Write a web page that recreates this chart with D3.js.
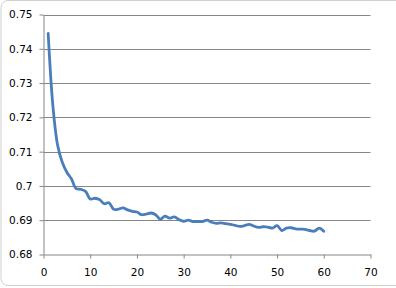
<!DOCTYPE html>
<html><head><meta charset="utf-8">
<script src="https://cdn.jsdelivr.net/npm/d3@7"></script>
<style>
html,body{margin:0;padding:0;background:#fff;overflow:hidden}
svg{display:block}
</style></head><body>
<svg id="c" width="396" height="288"></svg>
<script>
const xValues = d3.range(1, 61);
const yValues = [
 0.7445,0.7235,0.7120,0.7070,0.7040,0.7020,0.6992,0.6990,0.6984,0.6962,
 0.6964,0.6960,0.6948,0.6951,0.6932,0.6932,0.6936,0.6930,0.6926,0.6924,
 0.6916,0.6918,0.6921,0.6916,0.6903,0.6912,0.6906,0.6910,0.6902,0.6897,
 0.6900,0.6896,0.6896,0.6896,0.6900,0.6894,0.6891,0.6892,0.6890,0.6888,
 0.6885,0.6882,0.6884,0.6888,0.6883,0.6879,0.6881,0.6880,0.6877,0.6884,
 0.6870,0.6877,0.6878,0.6875,0.6874,0.6873,0.6870,0.6868,0.6877,0.6868
];
const xTicks = [0,10,20,30,40,50,60,70];
const xTickLabels = ["0","10","20","30","40","50","60","70"];
const yTicks = [0.68,0.69,0.70,0.71,0.72,0.73,0.74,0.75];
const yTickLabels = ["0.68","0.69","0.7","0.71","0.72","0.73","0.74","0.75"];

const svg = d3.select("#c");
const x = d3.scaleLinear().domain([0,70]).range([43.5,370.5]);
const y = d3.scaleLinear().domain([0.68,0.75]).range([254.5,14.5]);
const gray = "#868686";
const font = "DejaVu Sans, Verdana, sans-serif";

// chart border
svg.append("rect").attr("x",1).attr("y",0.5).attr("width",410).attr("height",285)
  .attr("rx",7).attr("fill","#fff").attr("stroke","#d0d0d0").attr("stroke-width",1);

// gridlines
svg.append("g").selectAll("line").data(yTicks.slice(1)).join("line")
  .attr("x1",x(0)).attr("x2",x(70))
  .attr("y1",d=>Math.round(y(d))+0.5).attr("y2",d=>Math.round(y(d))+0.5)
  .attr("stroke",gray).attr("stroke-width",1);

// y axis
const yAxis = d3.axisLeft(y).tickValues(yTicks).tickSize(4).tickSizeOuter(0).tickPadding(7)
  .tickFormat((d,i)=>yTickLabels[i]);
const gy = svg.append("g").attr("transform",`translate(${x(0)},0)`).call(yAxis);
gy.selectAll("line").attr("stroke",gray);
gy.select(".domain").attr("stroke",gray);
gy.selectAll("text").attr("font-family",font).attr("font-size","10.5px").attr("fill","#000");

// x axis
const xAxis = d3.axisBottom(x).tickValues(xTicks).tickSize(4).tickSizeOuter(0).tickPadding(10)
  .tickFormat((d,i)=>xTickLabels[i]);
const gx = svg.append("g").attr("transform",`translate(0,${y(0.68)})`).call(xAxis);
gx.selectAll("line").attr("stroke",gray);
gx.select(".domain").attr("stroke",gray);
gx.selectAll("text").attr("font-family",font).attr("font-size","10.5px").attr("fill","#000");

// series
const line = d3.line().x((d,i)=>x(xValues[i])).y(d=>y(d)).curve(d3.curveCatmullRom.alpha(0.5));
svg.append("path").datum(yValues).attr("d",line)
  .attr("fill","none").attr("stroke","#4a7ebb").attr("stroke-width",2.8)
  .attr("stroke-linejoin","round").attr("stroke-linecap","round");
</script>
</body></html>
